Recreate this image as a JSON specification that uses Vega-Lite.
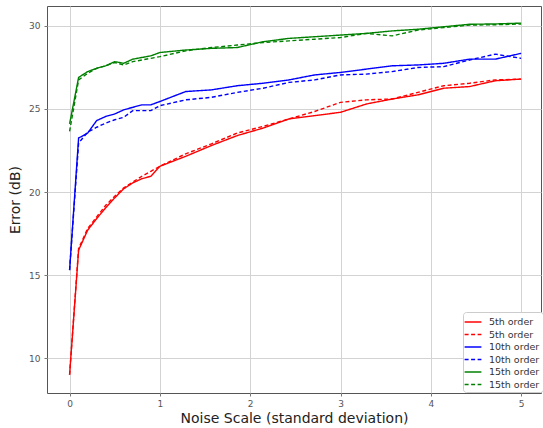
{
  "$schema": "https://vega.github.io/schema/vega-lite/v6.json",
  "width": 494,
  "height": 387,
  "autosize": {"type": "none"},
  "padding": {"left": 47, "top": 6, "right": 2, "bottom": 35},
  "config": {
    "font": "DejaVu Sans",
    "view": {"stroke": "#555555", "strokeWidth": 1},
    "axis": {
      "domain": false,
      "grid": true,
      "gridColor": "#d3d3d3",
      "gridWidth": 1,
      "tickColor": "#777777",
      "tickSize": 3,
      "labelColor": "#555555",
      "labelFontSize": 9,
      "titleColor": "#222222",
      "titleFontWeight": "normal"
    }
  },
  "datasets": {
    "pts": [
      {"x":0,"y":9.0,"s":"5th order|a"},{"x":0.1,"y":16.5,"s":"5th order|a"},{"x":0.2,"y":17.7,"s":"5th order|a"},{"x":0.3,"y":18.4,"s":"5th order|a"},{"x":0.4,"y":19.05,"s":"5th order|a"},{"x":0.5,"y":19.65,"s":"5th order|a"},{"x":0.6,"y":20.2,"s":"5th order|a"},{"x":0.7,"y":20.55,"s":"5th order|a"},{"x":0.8,"y":20.8,"s":"5th order|a"},{"x":0.9,"y":20.95,"s":"5th order|a"},{"x":1.0,"y":21.55,"s":"5th order|a"},{"x":1.286,"y":22.15,"s":"5th order|a"},{"x":1.571,"y":22.8,"s":"5th order|a"},{"x":1.857,"y":23.4,"s":"5th order|a"},{"x":2.143,"y":23.85,"s":"5th order|a"},{"x":2.429,"y":24.4,"s":"5th order|a"},{"x":2.714,"y":24.6,"s":"5th order|a"},{"x":3.0,"y":24.8,"s":"5th order|a"},{"x":3.286,"y":25.3,"s":"5th order|a"},{"x":3.571,"y":25.6,"s":"5th order|a"},{"x":3.857,"y":25.85,"s":"5th order|a"},{"x":4.143,"y":26.25,"s":"5th order|a"},{"x":4.429,"y":26.35,"s":"5th order|a"},{"x":4.714,"y":26.7,"s":"5th order|a"},{"x":5.0,"y":26.8,"s":"5th order|a"},
      {"x":0,"y":9.0,"s":"5th order|b"},{"x":0.1,"y":16.6,"s":"5th order|b"},{"x":0.2,"y":17.8,"s":"5th order|b"},{"x":0.3,"y":18.5,"s":"5th order|b"},{"x":0.4,"y":19.2,"s":"5th order|b"},{"x":0.5,"y":19.75,"s":"5th order|b"},{"x":0.6,"y":20.25,"s":"5th order|b"},{"x":0.7,"y":20.6,"s":"5th order|b"},{"x":0.8,"y":20.95,"s":"5th order|b"},{"x":0.9,"y":21.25,"s":"5th order|b"},{"x":1.0,"y":21.55,"s":"5th order|b"},{"x":1.286,"y":22.3,"s":"5th order|b"},{"x":1.571,"y":22.9,"s":"5th order|b"},{"x":1.857,"y":23.55,"s":"5th order|b"},{"x":2.143,"y":23.95,"s":"5th order|b"},{"x":2.429,"y":24.4,"s":"5th order|b"},{"x":2.714,"y":24.85,"s":"5th order|b"},{"x":3.0,"y":25.4,"s":"5th order|b"},{"x":3.286,"y":25.55,"s":"5th order|b"},{"x":3.571,"y":25.6,"s":"5th order|b"},{"x":3.857,"y":26.0,"s":"5th order|b"},{"x":4.143,"y":26.4,"s":"5th order|b"},{"x":4.429,"y":26.55,"s":"5th order|b"},{"x":4.714,"y":26.75,"s":"5th order|b"},{"x":5.0,"y":26.8,"s":"5th order|b"},
      {"x":0,"y":15.3,"s":"10th order|a"},{"x":0.1,"y":23.25,"s":"10th order|a"},{"x":0.2,"y":23.55,"s":"10th order|a"},{"x":0.3,"y":24.3,"s":"10th order|a"},{"x":0.4,"y":24.55,"s":"10th order|a"},{"x":0.5,"y":24.7,"s":"10th order|a"},{"x":0.6,"y":24.95,"s":"10th order|a"},{"x":0.7,"y":25.1,"s":"10th order|a"},{"x":0.8,"y":25.25,"s":"10th order|a"},{"x":0.9,"y":25.25,"s":"10th order|a"},{"x":1.0,"y":25.45,"s":"10th order|a"},{"x":1.286,"y":26.05,"s":"10th order|a"},{"x":1.571,"y":26.15,"s":"10th order|a"},{"x":1.857,"y":26.4,"s":"10th order|a"},{"x":2.143,"y":26.55,"s":"10th order|a"},{"x":2.429,"y":26.75,"s":"10th order|a"},{"x":2.714,"y":27.05,"s":"10th order|a"},{"x":3.0,"y":27.2,"s":"10th order|a"},{"x":3.286,"y":27.4,"s":"10th order|a"},{"x":3.571,"y":27.6,"s":"10th order|a"},{"x":3.857,"y":27.65,"s":"10th order|a"},{"x":4.143,"y":27.75,"s":"10th order|a"},{"x":4.429,"y":28.0,"s":"10th order|a"},{"x":4.714,"y":28.0,"s":"10th order|a"},{"x":5.0,"y":28.35,"s":"10th order|a"},
      {"x":0,"y":15.3,"s":"10th order|b"},{"x":0.1,"y":22.95,"s":"10th order|b"},{"x":0.2,"y":23.6,"s":"10th order|b"},{"x":0.3,"y":23.9,"s":"10th order|b"},{"x":0.4,"y":24.15,"s":"10th order|b"},{"x":0.5,"y":24.35,"s":"10th order|b"},{"x":0.6,"y":24.5,"s":"10th order|b"},{"x":0.7,"y":24.9,"s":"10th order|b"},{"x":0.8,"y":24.9,"s":"10th order|b"},{"x":0.9,"y":24.9,"s":"10th order|b"},{"x":1.0,"y":25.2,"s":"10th order|b"},{"x":1.286,"y":25.55,"s":"10th order|b"},{"x":1.571,"y":25.7,"s":"10th order|b"},{"x":1.857,"y":26.0,"s":"10th order|b"},{"x":2.143,"y":26.25,"s":"10th order|b"},{"x":2.429,"y":26.6,"s":"10th order|b"},{"x":2.714,"y":26.75,"s":"10th order|b"},{"x":3.0,"y":27.05,"s":"10th order|b"},{"x":3.286,"y":27.1,"s":"10th order|b"},{"x":3.571,"y":27.25,"s":"10th order|b"},{"x":3.857,"y":27.5,"s":"10th order|b"},{"x":4.143,"y":27.55,"s":"10th order|b"},{"x":4.429,"y":27.95,"s":"10th order|b"},{"x":4.714,"y":28.3,"s":"10th order|b"},{"x":5.0,"y":28.05,"s":"10th order|b"},
      {"x":0,"y":24.1,"s":"15th order|a"},{"x":0.1,"y":26.9,"s":"15th order|a"},{"x":0.2,"y":27.25,"s":"15th order|a"},{"x":0.3,"y":27.45,"s":"15th order|a"},{"x":0.4,"y":27.6,"s":"15th order|a"},{"x":0.5,"y":27.85,"s":"15th order|a"},{"x":0.6,"y":27.75,"s":"15th order|a"},{"x":0.7,"y":28.0,"s":"15th order|a"},{"x":0.8,"y":28.1,"s":"15th order|a"},{"x":0.9,"y":28.2,"s":"15th order|a"},{"x":1.0,"y":28.4,"s":"15th order|a"},{"x":1.286,"y":28.55,"s":"15th order|a"},{"x":1.571,"y":28.65,"s":"15th order|a"},{"x":1.857,"y":28.7,"s":"15th order|a"},{"x":2.143,"y":29.05,"s":"15th order|a"},{"x":2.429,"y":29.25,"s":"15th order|a"},{"x":2.714,"y":29.35,"s":"15th order|a"},{"x":3.0,"y":29.45,"s":"15th order|a"},{"x":3.286,"y":29.55,"s":"15th order|a"},{"x":3.571,"y":29.7,"s":"15th order|a"},{"x":3.857,"y":29.8,"s":"15th order|a"},{"x":4.143,"y":29.95,"s":"15th order|a"},{"x":4.429,"y":30.1,"s":"15th order|a"},{"x":4.714,"y":30.12,"s":"15th order|a"},{"x":5.0,"y":30.17,"s":"15th order|a"},
      {"x":0,"y":23.65,"s":"15th order|b"},{"x":0.1,"y":26.75,"s":"15th order|b"},{"x":0.2,"y":27.15,"s":"15th order|b"},{"x":0.3,"y":27.45,"s":"15th order|b"},{"x":0.4,"y":27.6,"s":"15th order|b"},{"x":0.5,"y":27.8,"s":"15th order|b"},{"x":0.6,"y":27.65,"s":"15th order|b"},{"x":0.7,"y":27.85,"s":"15th order|b"},{"x":0.8,"y":27.95,"s":"15th order|b"},{"x":0.9,"y":28.05,"s":"15th order|b"},{"x":1.0,"y":28.15,"s":"15th order|b"},{"x":1.286,"y":28.5,"s":"15th order|b"},{"x":1.571,"y":28.7,"s":"15th order|b"},{"x":1.857,"y":28.85,"s":"15th order|b"},{"x":2.143,"y":29.0,"s":"15th order|b"},{"x":2.429,"y":29.1,"s":"15th order|b"},{"x":2.714,"y":29.2,"s":"15th order|b"},{"x":3.0,"y":29.3,"s":"15th order|b"},{"x":3.286,"y":29.55,"s":"15th order|b"},{"x":3.571,"y":29.4,"s":"15th order|b"},{"x":3.857,"y":29.75,"s":"15th order|b"},{"x":4.143,"y":29.9,"s":"15th order|b"},{"x":4.429,"y":30.05,"s":"15th order|b"},{"x":4.714,"y":30.07,"s":"15th order|b"},{"x":5.0,"y":30.12,"s":"15th order|b"}
    ]
  },
  "data": {"name": "pts"},
  "mark": {"type": "line", "strokeWidth": 1.4, "clip": true},
  "encoding": {
    "x": {
      "field": "x", "type": "quantitative",
      "scale": {"domain": [-0.25, 5.22], "nice": false, "zero": false},
      "axis": {"values": [0, 1, 2, 3, 4, 5], "format": "d", "title": "Noise Scale (standard deviation)", "titleFontSize": 14, "titlePadding": 3, "labelPadding": 3}
    },
    "y": {
      "field": "y", "type": "quantitative",
      "scale": {"domain": [7.9, 31.2], "nice": false, "zero": false},
      "axis": {"values": [10, 15, 20, 25, 30], "format": "d", "title": "Error (dB)", "titleFontSize": 14, "titlePadding": 6, "labelPadding": 4}
    },
    "color": {
      "field": "s", "type": "nominal",
      "scale": {
        "domain": ["5th order|a", "5th order|b", "10th order|a", "10th order|b", "15th order|a", "15th order|b"],
        "range": ["#ff0000", "#ff0000", "#0000ff", "#0000ff", "#008000", "#008000"]
      },
      "legend": {
        "title": null,
        "orient": "none",
        "legendX": 416,
        "legendY": 306,
        "labelExpr": "split(datum.label, '|')[0]",
        "symbolType": "M-1.4,0H1.4",
        "symbolSize": 144,
        "symbolStrokeWidth": 1.6,
        "labelFontSize": 9.5,
        "labelColor": "#333333",
        "rowPadding": 0.5,
        "padding": 3,
        "strokeColor": "#cccccc",
        "fillColor": "#ffffff",
        "cornerRadius": 3,
        "labelOffset": 9
      }
    },
    "strokeDash": {
      "field": "s", "type": "nominal",
      "scale": {
        "domain": ["5th order|a", "5th order|b", "10th order|a", "10th order|b", "15th order|a", "15th order|b"],
        "range": [[1, 0], [4, 2.5], [1, 0], [4, 2.5], [1, 0], [4, 2.5]]
      },
      "legend": {
        "title": null,
        "orient": "none",
        "legendX": 416,
        "legendY": 306,
        "labelExpr": "split(datum.label, '|')[0]",
        "symbolType": "M-1.4,0H1.4",
        "symbolSize": 144,
        "symbolStrokeWidth": 1.6,
        "labelFontSize": 9.5,
        "labelColor": "#333333",
        "rowPadding": 0.5,
        "padding": 3,
        "strokeColor": "#cccccc",
        "fillColor": "#ffffff",
        "cornerRadius": 3,
        "labelOffset": 9
      }
    }
  }
}
